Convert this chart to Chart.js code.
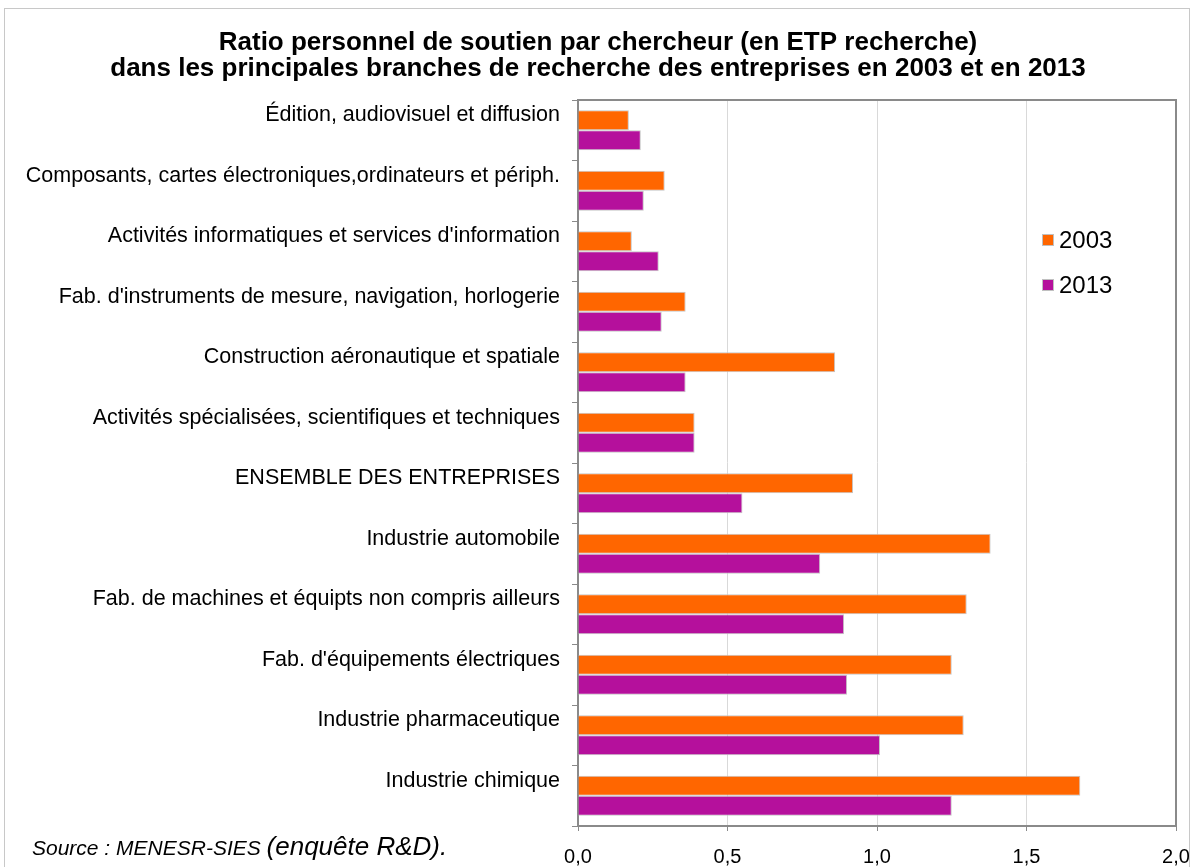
<!DOCTYPE html>
<html>
<head>
<meta charset="utf-8">
<script src="https://cdn.jsdelivr.net/npm/chart.js@4/dist/chart.umd.min.js"></script>
<style>
  body { margin: 0; background: #fff; }
  #wrap { position: relative; width: 1194px; height: 867px; }
</style>
</head>
<body>
<div id="wrap"><canvas id="bars" width="1194" height="867"></canvas></div>
<script>
const branches = [
  "Édition, audiovisuel et diffusion",
  "Composants, cartes électroniques,ordinateurs et périph.",
  "Activités informatiques et services d'information",
  "Fab. d'instruments de mesure, navigation, horlogerie",
  "Construction aéronautique et spatiale",
  "Activités spécialisées, scientifiques et techniques",
  "ENSEMBLE DES ENTREPRISES",
  "Industrie automobile",
  "Fab. de machines et équipts non compris ailleurs",
  "Fab. d'équipements électriques",
  "Industrie pharmaceutique",
  "Industrie chimique"
];
const ratio2003 = [0.17, 0.29, 0.18, 0.36, 0.86, 0.39, 0.92, 1.38, 1.30, 1.25, 1.29, 1.68];
const ratio2013 = [0.21, 0.22, 0.27, 0.28, 0.36, 0.39, 0.55, 0.81, 0.89, 0.90, 1.01, 1.25];
const years = ["2003", "2013"];
const colors = ["#FF6600", "#B5109C"];

const FONT = "'Liberation Sans', Arial, sans-serif";

// frame, legend, plot border and source line
const extras = {
  id: 'extras',
  afterDraw(chart) {
    const ctx = chart.ctx;
    const a = chart.chartArea;
    ctx.save();
    // outer frame
    ctx.strokeStyle = '#c8c8c8';
    ctx.lineWidth = 1;
    ctx.strokeRect(4.5, 8.5, 1185, 880);
    // legend box
    ctx.fillStyle = '#fff';
    ctx.fillRect(1030, 217, 140, 90);
    ctx.font = '24px ' + FONT;
    ctx.textBaseline = 'middle';
    years.forEach((y, i) => {
      const cy = 240 + i * 45;
      ctx.fillStyle = colors[i];
      ctx.fillRect(1042, cy - 6, 12, 12);
      ctx.strokeStyle = '#c0c0c0';
      ctx.lineWidth = 1;
      ctx.strokeRect(1042.5, cy - 5.5, 11, 11);
      ctx.fillStyle = '#000';
      ctx.fillText(y, 1059, cy + 1);
    });
    // top and right plot border
    ctx.strokeStyle = '#8a8a8a';
    ctx.lineWidth = 2;
    ctx.beginPath();
    ctx.moveTo(a.left, a.top);
    ctx.lineTo(a.right, a.top);
    ctx.lineTo(a.right, a.bottom);
    ctx.stroke();
    // source
    ctx.fillStyle = '#000';
    ctx.textBaseline = 'alphabetic';
    ctx.font = 'italic 21px ' + FONT;
    ctx.fillText('Source : MENESR-SIES ', 32, 855);
    const w = ctx.measureText('Source : MENESR-SIES ').width;
    ctx.font = 'italic 26px ' + FONT;
    ctx.fillText('(enquête R&D).', 32 + w, 855);
    ctx.restore();
  }
};

new Chart(document.getElementById('bars'), {
  type: 'bar',
  data: {
    labels: branches,
    datasets: [
      { label: years[0], data: ratio2003, backgroundColor: colors[0] },
      { label: years[1], data: ratio2013, backgroundColor: colors[1] }
    ]
  },
  options: {
    indexAxis: 'y',
    responsive: false,
    animation: false,
    layout: { padding: { top: 30, left: 20, right: 18, bottom: 0 } },
    datasets: {
      bar: {
        categoryPercentage: 0.66,
        barPercentage: 1.0,
        borderWidth: 1,
        borderColor: '#c4c4c4'
      }
    },
    plugins: {
      legend: { display: false },
      tooltip: { enabled: false },
      title: {
        display: true,
        text: ['Ratio personnel de soutien par chercheur (en ETP recherche)',
               'dans les principales branches de recherche des entreprises en 2003 et en 2013'],
        color: '#000',
        font: { family: FONT, size: 26, weight: 'bold', lineHeight: 1.0 },
        padding: { top: 0, bottom: 18 }
      }
    },
    scales: {
      x: {
        min: 0,
        max: 2,
        afterFit: s => { s.height = 41; s.paddingLeft = 0; s.paddingRight = 0; },
        ticks: {
          stepSize: 0.5,
          color: '#000',
          padding: 16,
          font: { family: FONT, size: 20, lineHeight: 1.0 },
          callback: v => v.toFixed(1).replace('.', ',')
        },
        grid: { color: '#d9d9d9', tickColor: '#8a8a8a', tickLength: 5 },
        border: { color: '#8a8a8a', width: 2 }
      },
      y: {
        afterFit: s => { s.width = 558; s.paddingTop = 0; s.paddingBottom = 0; },
        ticks: {
          color: '#000',
          padding: 12,
          labelOffset: -15,
          font: { family: FONT, size: 21.5 }
        },
        grid: { offset: true, drawOnChartArea: false, tickColor: '#8a8a8a', tickLength: 6 },
        border: { color: '#8a8a8a', width: 2 }
      }
    }
  },
  plugins: [extras]
});
</script>
</body>
</html>
